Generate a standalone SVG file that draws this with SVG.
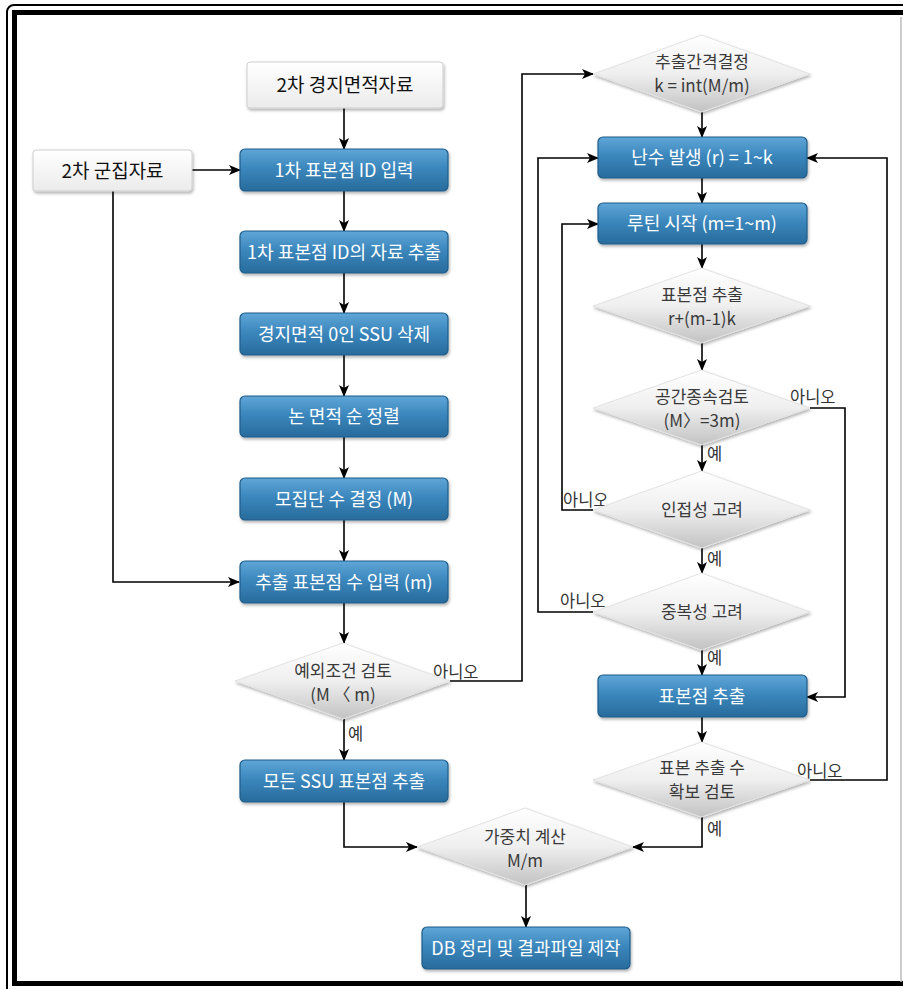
<svg xmlns="http://www.w3.org/2000/svg" width="903" height="989" viewBox="0 0 903 989">
  <defs>
    <linearGradient id="blueFill" x1="0" y1="0" x2="0" y2="1">
      <stop offset="0" stop-color="#60a6d7"/>
      <stop offset="0.45" stop-color="#3b87bd"/>
      <stop offset="1" stop-color="#286b9c"/>
    </linearGradient>
    <linearGradient id="grayFill" x1="0" y1="0" x2="0" y2="1">
      <stop offset="0" stop-color="#ffffff"/>
      <stop offset="1" stop-color="#ebebeb"/>
    </linearGradient>
    <linearGradient id="diaFill" x1="0" y1="0" x2="0" y2="1">
      <stop offset="0" stop-color="#ffffff"/>
      <stop offset="0.5" stop-color="#efefef"/>
      <stop offset="1" stop-color="#c2c2c2"/>
    </linearGradient>
    <filter id="shadow" x="-10%" y="-20%" width="125%" height="150%">
      <feDropShadow dx="1" dy="2" stdDeviation="1.6" flood-color="#000" flood-opacity="0.3"/>
    </filter>
    <marker id="arrow" viewBox="0 0 12 10" refX="11" refY="5" markerWidth="12" markerHeight="10" markerUnits="userSpaceOnUse" orient="auto">
      <path d="M0,0 L12,5 L0,10 L3,5 Z" fill="#000"/>
    </marker>
  </defs>
  <style>
    .blue { fill: url(#blueFill); stroke: #1f5d8a; stroke-width: 1.2; filter: url(#shadow); }
    .gray { fill: url(#grayFill); stroke: #cfcfcf; stroke-width: 1; filter: url(#shadow); }
    .dia { fill: url(#diaFill); stroke: #e2e2e2; stroke-width: 1; filter: url(#shadow); }
    text { font-family: "Noto Sans CJK KR", "Noto Sans", sans-serif; text-anchor: middle; }
    .bt { fill: #ffffff; font-size: 18px; }
    .gt { fill: #111111; font-size: 19px; }
    .dt { fill: #3a3a3a; font-size: 17px; }
    .lb { fill: #333333; font-size: 16.5px; text-anchor: start; }
    .conn { fill: none; stroke: #000; stroke-width: 1.6; }
  </style>

  <rect width="903" height="989" fill="#ffffff"/>

  <!-- double frame -->
  <rect x="7" y="5" width="920" height="1000" rx="7" fill="none" stroke="#000" stroke-width="2"/>
  <rect x="14.5" y="12.5" width="920" height="971" fill="none" stroke="#000" stroke-width="5"/>
  <line x1="901" y1="17" x2="901" y2="982" stroke="#bdbdbd" stroke-width="1.5"/>

  <!-- connectors -->
  <g id="connectors" class="conn">
    <path d="M344,108 V149" marker-end="url(#arrow)"/>
    <path d="M192,170 H240" marker-end="url(#arrow)"/>
    <path d="M113,191 V582 H239" marker-end="url(#arrow)"/>
    <path d="M344,191 V231" marker-end="url(#arrow)"/>
    <path d="M344,273 V313" marker-end="url(#arrow)"/>
    <path d="M344,355 V396" marker-end="url(#arrow)"/>
    <path d="M344,437 V478" marker-end="url(#arrow)"/>
    <path d="M344,520 V561" marker-end="url(#arrow)"/>
    <path d="M344,603 V643" marker-end="url(#arrow)"/>
    <path d="M344,719 V760" marker-end="url(#arrow)"/>
    <path d="M450,681 H522 V74 H593" marker-end="url(#arrow)"/>
    <path d="M344,802 V847 H417" marker-end="url(#arrow)"/>
    <path d="M526,885 V927" marker-end="url(#arrow)"/>
    <path d="M702,112 V137" marker-end="url(#arrow)"/>
    <path d="M702,178 V203" marker-end="url(#arrow)"/>
    <path d="M702,244 V268" marker-end="url(#arrow)"/>
    <path d="M702,343 V370" marker-end="url(#arrow)"/>
    <path d="M702,445 V471" marker-end="url(#arrow)"/>
    <path d="M702,548 V573" marker-end="url(#arrow)"/>
    <path d="M702,650 V675" marker-end="url(#arrow)"/>
    <path d="M702,717 V742" marker-end="url(#arrow)"/>
    <path d="M810,408 H845 V697 H807" marker-end="url(#arrow)"/>
    <path d="M593,510 H562 V224 H598" marker-end="url(#arrow)"/>
    <path d="M593,612 H538 V158 H598" marker-end="url(#arrow)"/>
    <path d="M810,780 H887 V158 H807" marker-end="url(#arrow)"/>
    <path d="M702,817 V847 H633" marker-end="url(#arrow)"/>
  </g>

  <!-- branch labels -->
  <g id="labels">
    <text class="lb" x="433" y="678">아니오</text>
    <text class="lb" x="348" y="740">예</text>
    <text class="lb" x="790" y="403">아니오</text>
    <text class="lb" x="707" y="460">예</text>
    <text class="lb" x="563" y="506">아니오</text>
    <text class="lb" x="707" y="565">예</text>
    <text class="lb" x="560" y="607">아니오</text>
    <text class="lb" x="707" y="664">예</text>
    <text class="lb" x="797" y="777">아니오</text>
    <text class="lb" x="707" y="835">예</text>
  </g>

  <!-- left column -->
  <g id="n-farm-area">
    <rect class="gray" x="247" y="62" width="196" height="46" rx="3"/>
    <text class="gt" x="345" y="92">2차 경지면적자료</text>
  </g>
  <g id="n-cluster">
    <rect class="gray" x="33" y="150" width="159" height="41" rx="3"/>
    <text class="gt" x="112.5" y="177.5">2차 군집자료</text>
  </g>
  <g id="n-id-input">
    <rect class="blue" x="240" y="149" width="208" height="42" rx="5"/>
    <text class="bt" x="344" y="176.5">1차 표본점 ID 입력</text>
  </g>
  <g id="n-id-extract">
    <rect class="blue" x="240" y="231" width="208" height="42" rx="5"/>
    <text class="bt" x="344" y="258.5" textLength="194" lengthAdjust="spacingAndGlyphs">1차 표본점 ID의 자료 추출</text>
  </g>
  <g id="n-delete-ssu">
    <rect class="blue" x="240" y="313" width="208" height="42" rx="5"/>
    <text class="bt" x="344" y="340.5">경지면적 0인 SSU 삭제</text>
  </g>
  <g id="n-sort">
    <rect class="blue" x="240" y="396" width="208" height="41" rx="5"/>
    <text class="bt" x="344" y="423">논 면적 순 정렬</text>
  </g>
  <g id="n-population">
    <rect class="blue" x="240" y="478" width="208" height="42" rx="5"/>
    <text class="bt" x="344" y="505.5">모집단 수 결정 (M)</text>
  </g>
  <g id="n-sample-count">
    <rect class="blue" x="240" y="561" width="208" height="42" rx="5"/>
    <text class="bt" x="344" y="588.5">추출 표본점 수 입력 (m)</text>
  </g>
  <g id="n-exception">
    <path class="dia" d="M343,643 L450,681 L343,719 L235,681 Z"/>
    <text class="dt" x="343" y="677">예외조건 검토</text>
    <text class="dt" x="343" y="701">(M 〈 m)</text>
  </g>
  <g id="n-all-ssu">
    <rect class="blue" x="240" y="760" width="208" height="42" rx="5"/>
    <text class="bt" x="344" y="787.5">모든 SSU 표본점 추출</text>
  </g>
  <g id="n-weight">
    <path class="dia" d="M525,808 L633,847 L525,885 L417,847 Z"/>
    <text class="dt" x="525" y="843">가중치 계산</text>
    <text class="dt" x="525" y="867">M/m</text>
  </g>
  <g id="n-db">
    <rect class="blue" x="422" y="927" width="208" height="42" rx="5"/>
    <text class="bt" x="526" y="954.5">DB 정리 및 결과파일 제작</text>
  </g>

  <!-- right column -->
  <g id="n-interval">
    <path class="dia" d="M701.5,35 L810,74 L701.5,112 L593,74 Z"/>
    <text class="dt" x="702" y="68">추출간격결정</text>
    <text class="dt" x="702" y="92">k = int(M/m)</text>
  </g>
  <g id="n-random">
    <rect class="blue" x="598" y="137" width="209" height="41" rx="5"/>
    <text class="bt" x="702" y="164">난수 발생 (r) = 1~k</text>
  </g>
  <g id="n-routine">
    <rect class="blue" x="598" y="203" width="209" height="41" rx="5"/>
    <text class="bt" x="702" y="230">루틴 시작 (m=1~m)</text>
  </g>
  <g id="n-point-calc">
    <path class="dia" d="M701.5,268 L810,306 L701.5,343 L593,306 Z"/>
    <text class="dt" x="702" y="301">표본점 추출</text>
    <text class="dt" x="702" y="325">r+(m-1)k</text>
  </g>
  <g id="n-spatial">
    <path class="dia" d="M701.5,370 L810,408 L701.5,445 L593,408 Z"/>
    <text class="dt" x="702" y="403">공간종속검토</text>
    <text class="dt" x="702" y="427">(M〉=3m)</text>
  </g>
  <g id="n-adjacency">
    <path class="dia" d="M701.5,471 L810,510 L701.5,548 L593,510 Z"/>
    <text class="dt" x="702" y="516">인접성 고려</text>
  </g>
  <g id="n-duplicate">
    <path class="dia" d="M701.5,573 L810,612 L701.5,650 L593,612 Z"/>
    <text class="dt" x="702" y="618">중복성 고려</text>
  </g>
  <g id="n-point-extract">
    <rect class="blue" x="598" y="675" width="209" height="42" rx="5"/>
    <text class="bt" x="702" y="702.5">표본점 추출</text>
  </g>
  <g id="n-count-check">
    <path class="dia" d="M701.5,742 L810,780 L701.5,817 L593,780 Z"/>
    <text class="dt" x="702" y="774">표본 추출 수</text>
    <text class="dt" x="702" y="798">확보 검토</text>
  </g>
</svg>
